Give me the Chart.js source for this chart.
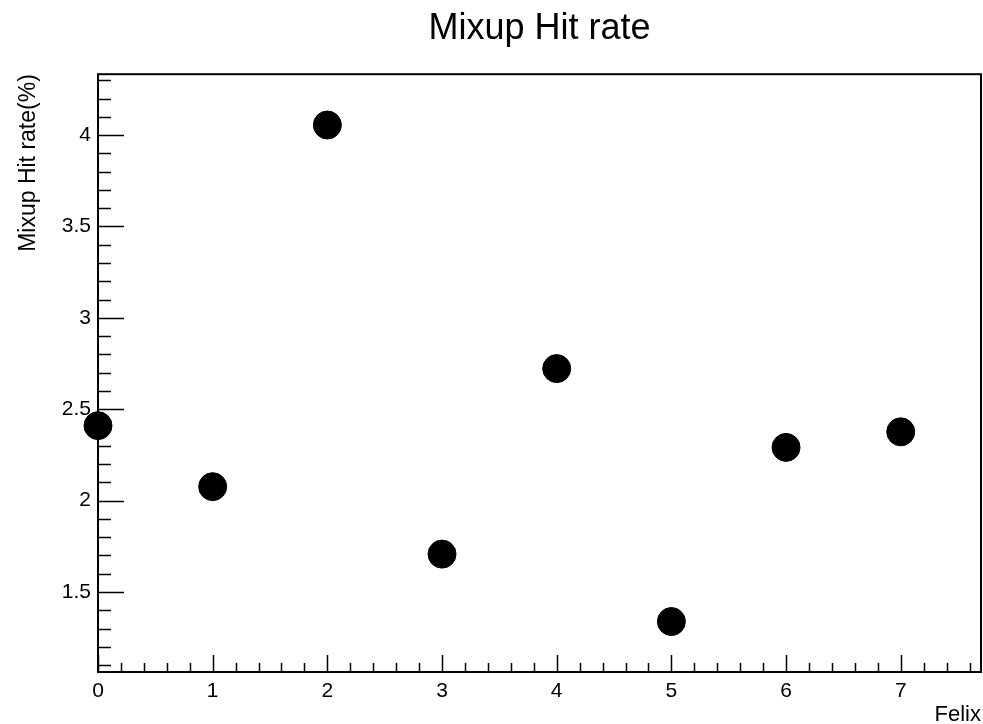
<!DOCTYPE html>
<html><head><meta charset="utf-8">
<script src="https://cdn.jsdelivr.net/npm/chart.js@4/dist/chart.umd.min.js"></script>
<style>html,body{margin:0;padding:0;background:#fff;}</style>
</head><body>
<canvas id="c" width="983" height="724"></canvas>
<script>
const chartTitle = 'Mixup Hit rate';
const xAxisTitle = 'Felix';
const yAxisTitle = 'Mixup Hit rate(%)';
const felixIds = [0, 1, 2, 3, 4, 5, 6, 7];
const hitRates = [2.41, 2.076, 4.055, 1.707, 2.722, 1.338, 2.291, 2.376];
const xTickValues = [0, 1, 2, 3, 4, 5, 6, 7];
const yTickValues = [1.5, 2, 2.5, 3, 3.5, 4];

const FONT = '"Liberation Sans", Arial, Helvetica, sans-serif';

const rootFrame = {
  id: 'rootFrame',
  beforeDatasetsDraw(chart) {
    const {ctx, chartArea: a, scales: {x, y}} = chart;
    ctx.save();
    ctx.strokeStyle = '#000';
    ctx.lineWidth = 1.5;
    const xMinor = (xTickValues[1] - xTickValues[0]) / 5;
    const yMinor = (yTickValues[1] - yTickValues[0]) / 5;
    ctx.beginPath();
    for (let i = Math.ceil(x.min / xMinor - 1e-6); i * xMinor <= x.max + 1e-6; i++) {
      const px = Math.round(x.getPixelForValue(i * xMinor)) + 0.5;
      const len = (i % 5 === 0) ? 17 : 9;
      ctx.moveTo(px, a.bottom);
      ctx.lineTo(px, a.bottom - len);
    }
    for (let i = Math.ceil(y.min / yMinor - 1e-6); i * yMinor <= y.max + 1e-6; i++) {
      const py = Math.round(y.getPixelForValue(i * yMinor)) + 0.5;
      const len = (i % 5 === 0) ? 26 : 13;
      ctx.moveTo(a.left, py);
      ctx.lineTo(a.left + len, py);
    }
    ctx.stroke();
    ctx.lineWidth = 2;
    ctx.strokeRect(a.left, a.top, a.right - a.left, a.bottom - a.top);
    ctx.restore();
  }
};

new Chart(document.getElementById('c'), {
  type: 'scatter',
  data: {
    datasets: [{
      label: yAxisTitle,
      data: felixIds.map((f, i) => ({x: f, y: hitRates[i]})),
      backgroundColor: '#000',
      borderColor: '#000',
      borderWidth: 1,
      pointRadius: 14,
      pointHoverRadius: 14,
      clip: false
    }]
  },
  options: {
    responsive: false,
    devicePixelRatio: 1,
    animation: false,
    layout: {autoPadding: false, padding: {left: 0, right: 2, top: 0, bottom: 0}},
    plugins: {
      legend: {display: false},
      tooltip: {enabled: false},
      title: {
        display: true,
        text: chartTitle,
        fullSize: false,
        color: '#000',
        font: {family: FONT, size: 36, weight: 'normal', lineHeight: 1.2},
        padding: {top: 7, bottom: 24}
      }
    },
    scales: {
      x: {
        type: 'linear',
        min: 0,
        max: 7.7,
        afterBuildTicks: s => { s.ticks = xTickValues.map(v => ({value: v})); },
        afterFit: s => { s.height = 52; s.paddingLeft = 0; s.paddingRight = 0; },
        grid: {display: false, drawTicks: false},
        border: {display: false},
        ticks: {color: '#000', font: {family: FONT, size: 21}, padding: 7, maxRotation: 0,
                callback: v => String(v)},
        title: {display: true, text: xAxisTitle, align: 'end', color: '#000',
                font: {family: FONT, size: 22, lineHeight: 0.85}, padding: {top: 0, bottom: 0}}
      },
      y: {
        type: 'linear',
        min: 1.062,
        max: 4.333,
        afterBuildTicks: s => { s.ticks = yTickValues.map(v => ({value: v})); },
        afterFit: s => { s.width = 98; s.paddingTop = 0; s.paddingBottom = 0; },
        grid: {display: false, drawTicks: false},
        border: {display: false},
        ticks: {color: '#000', font: {family: FONT, size: 21}, padding: 7,
                callback: v => String(v)},
        title: {display: true, text: yAxisTitle, align: 'end', color: '#000',
                font: {family: FONT, size: 23, lineHeight: 1}, padding: {top: 17, bottom: 0}}
      }
    }
  },
  plugins: [rootFrame]
});
</script>
</body></html>
